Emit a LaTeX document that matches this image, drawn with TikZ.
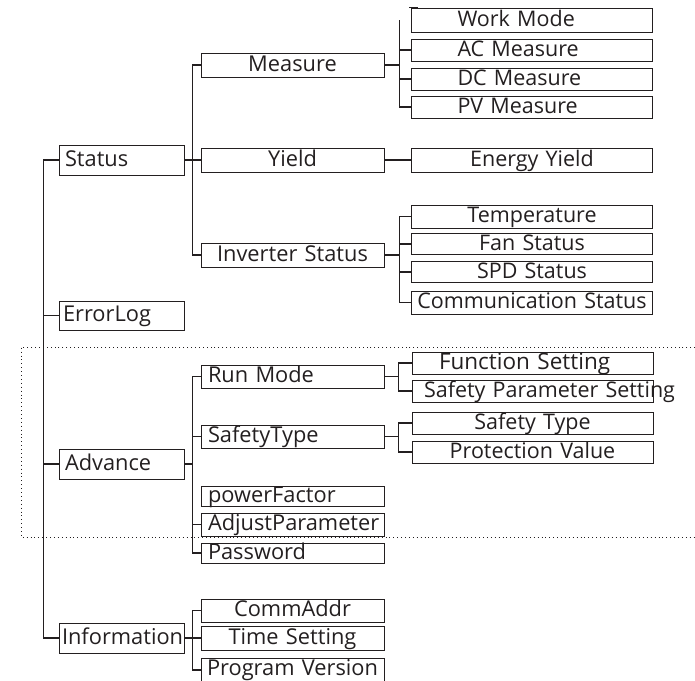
\documentclass[tikz,border=0pt]{standalone}
\usepackage{fontspec}
\setmainfont{Open Sans}
\usetikzlibrary{calc}

\definecolor{ink}{HTML}{231F20}
\def\wone{125pt}    % level 1 width
\def\wtwo{183pt}    % level 2 width
\def\wthree{241pt}  % level 3 width
\tikzset{
  box/.style 2 args={draw=ink, line width=0.8pt, text=ink, text width=#1,
    minimum height=#2, inner xsep=0pt, inner ysep=0pt, align=center},
  lbox/.style n args={3}{box={#1}{#2}, align=left,
    execute at begin node={\hspace*{#3}}},
  big/.style={font=\fontsize{21.8}{23}\selectfont, text height=16pt, text depth=4pt},
  small/.style={font=\fontsize{21.5}{23}\selectfont, text height=15pt, text depth=3pt},
  wire/.style={draw=ink, line width=1.1pt},
  dotline/.style={draw=ink, line width=1pt, dash pattern=on 0.9pt off 3pt}
}

\begin{document}
\begin{tikzpicture}[x=1pt, y=-1pt, line cap=butt, line join=miter]
  \useasboundingbox (0,0) rectangle (695,680);

  % Level 1
  \node[lbox={\wone}{30pt}{6pt}, big] (Status)      at (121.5,160) {Status};
  \node[lbox={\wone}{29pt}{4pt}, big] (ErrorLog)    at (121.5,315.5) {ErrorLog};
  \node[lbox={\wone}{30pt}{6pt}, big] (Advance)     at (121.5,464) {Advance};
  \node[lbox={\wone}{30pt}{3pt}, big] (Information) at (121.5,638) {Information};

  \draw[wire] (Status.west) -- ++(-15,0) |- (Information.west);
  \foreach \n in {ErrorLog,Advance} \draw[wire] (\n.west) -- ++(-15,0);

  % Status
  \node[box={\wtwo}{24pt}, big] (Measure)   at (292.5,65)  {Measure};
  \node[box={\wtwo}{24pt}, big] (Yield)     at (292.5,160) {Yield};
  \node[box={\wtwo}{24pt}, big] (InvStatus) at (292.5,255) {Inverter Status};

  \draw[wire] (Status.east) -- (Yield.west);
  \draw[wire] (Measure.west) -- ++(-8,0) |- (InvStatus.west);

  % Measure
  \node[lbox={\wthree}{24pt}{46pt}, small] (WorkMode)  at (532,20)  {Work Mode};
  \node[lbox={\wthree}{22pt}{46pt}, small] (ACMeasure) at (532,50)  {AC Measure};
  \node[lbox={\wthree}{22pt}{46pt}, small] (DCMeasure) at (532,79)  {DC Measure};
  \node[lbox={\wthree}{22pt}{46pt}, small] (PVMeasure) at (532,107) {PV Measure};

  \draw[wire] (Measure.east) -- ++(15,0);
  \draw[wire] ($(WorkMode.west)+(-12,0)$) |- (PVMeasure.west);
  \foreach \n in {ACMeasure,DCMeasure} \draw[wire] (\n.west) -- ++(-12,0);
  \draw[wire] ($(WorkMode.north west)+(-2,0)$) -- ++(9,0);

  % Yield
  \node[box={\wthree}{24pt}, small] (EnergyYield) at (532,160) {Energy Yield};
  \draw[wire] (Yield.east) -- (EnergyYield.west);

  % Inverter Status
  \node[box={\wthree}{23pt}, small] (Temperature) at (532,216.5) {Temperature};
  \node[box={\wthree}{21pt}, small] (FanStatus)   at (532,244)   {Fan Status};
  \node[box={\wthree}{21pt}, small] (SPDStatus)   at (532,272)   {SPD Status};
  \node[box={\wthree}{23pt}, small] (CommStatus)  at (532,302.5) {Communication Status};

  \draw[wire] (InvStatus.east) -- ++(15,0);
  \draw[wire] (Temperature.west) -- ++(-12,0) |- (CommStatus.west);
  \foreach \n in {FanStatus,SPDStatus} \draw[wire] (\n.west) -- ++(-12,0);

  % Advance
  \node[lbox={\wtwo}{23pt}{7pt}, big] (RunMode)     at (292.5,376.5) {Run Mode};
  \node[lbox={\wtwo}{23pt}{7pt}, big] (SafetyType)  at (292.5,436.5) {SafetyType};
  \node[lbox={\wtwo}{20pt}{7pt}, big] (PowerFactor) at (292.5,496)   {powerFactor};
  \node[lbox={\wtwo}{23pt}{7pt}, big] (AdjustParam) at (292.5,524.5) {AdjustParameter};
  \node[lbox={\wtwo}{20pt}{7pt}, big] (Password)    at (292.5,553)   {Password};

  \draw[wire] (Advance.east) -- ++(9,0);
  \draw[wire] (RunMode.west) -- ++(-8,0) |- (Password.west);
  \foreach \n in {SafetyType,AdjustParam} \draw[wire] (\n.west) -- ++(-8,0);

  % Run Mode
  \node[lbox={\wthree}{22pt}{27pt}, small, font=\fontsize{22.5}{24}\selectfont]
    (FuncSetting) at (532.5,363) {Function Setting};
  \node[lbox={\wthree}{22pt}{12pt}, small]
    (SafetyParam) at (532.5,391) {\mbox{Safety Parameter Setting}};

  \draw[wire] (RunMode.east) -- ++(15,0);
  \draw[wire] (FuncSetting.west) -- ++(-13,0) |- (SafetyParam.west);

  % SafetyType
  \node[box={\wthree}{22pt}, small] (SafetyTypeSub) at (532.5,423) {Safety Type};
  \node[box={\wthree}{22pt}, small] (ProtValue)     at (532.5,452) {Protection Value};

  \draw[wire] (SafetyType.east) -- ++(15,0);
  \draw[wire] (SafetyTypeSub.west) -- ++(-13,0) |- (ProtValue.west);

  % Information
  \node[box={\wtwo}{23pt}, big] (CommAddr)    at (292.5,610.5) {CommAddr};
  \node[box={\wtwo}{24pt}, big] (TimeSetting) at (292.5,638)   {Time Setting};
  \node[box={\wtwo}{24pt}, big, text depth=6pt] (ProgVersion) at (292.5,670) {Program Version};

  \draw[wire] (Information.east) -- (TimeSetting.west);
  \draw[wire] (CommAddr.west) -- ++(-8,0) |- (ProgVersion.west);

  % Dotted frame round Advance
  \draw[dotline] (695,347) -- (21,347) -- (21,537) -- (695,537);
\end{tikzpicture}
\end{document}
